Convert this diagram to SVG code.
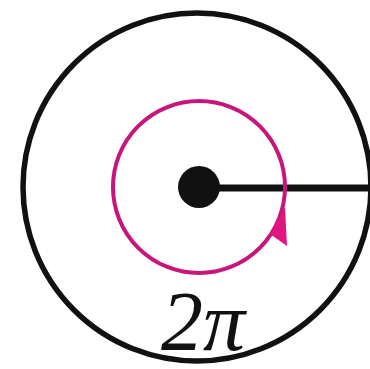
<svg xmlns="http://www.w3.org/2000/svg" width="370" height="369" viewBox="0 0 370 369">
<style>
.outer{fill:none;stroke:#111;stroke-width:5.5}
.loop{fill:none;stroke:#c8157a;stroke-width:4}
.lbl{font-family:"Liberation Serif",serif;font-style:italic;font-size:84px;fill:#111}
</style>
<rect width="370" height="369" fill="#fff"/>
<g id="outer-circle"><circle class="outer" cx="197" cy="187" r="174"/></g>
<g id="connectors">
<line x1="199" y1="188" x2="372" y2="188" stroke="#111" stroke-width="7"/>
</g>
<g id="loop">
<circle class="loop" cx="199" cy="187" r="86"/>
<polygon points="285,207 287,246 270,234" fill="#e0157f"/>
</g>
<g id="center"><circle cx="199" cy="187" r="21" fill="#111"/></g>
<g id="label"><text class="lbl" x="161" y="350">2π</text></g>
</svg>
